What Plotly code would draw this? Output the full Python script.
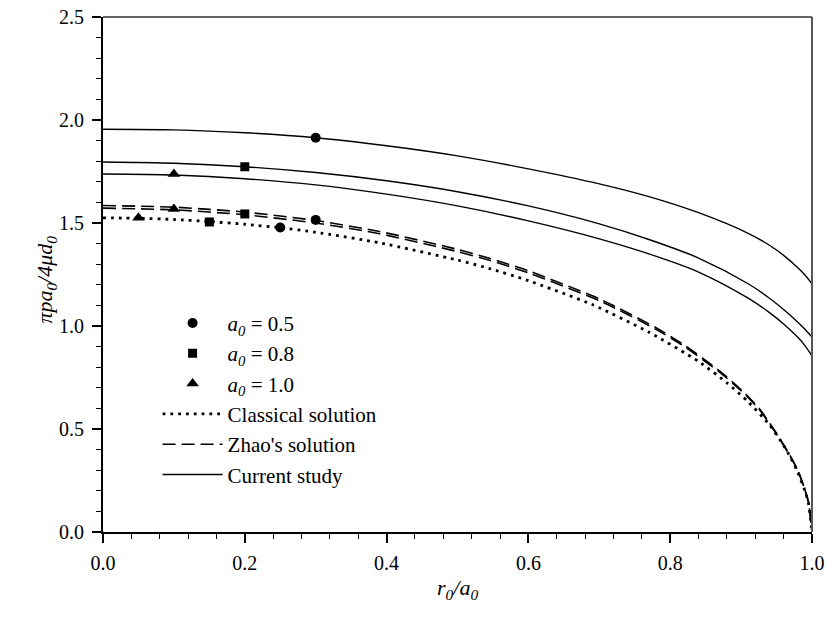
import plotly.graph_objects as go

# ---- Data -------------------------------------------------------------
# Current study (solid lines), one curve per a0
r_cur = [0.0, 0.1, 0.2, 0.3, 0.4, 0.5, 0.6, 0.7, 0.77, 0.84, 0.91, 0.94, 0.96, 0.98, 0.99, 1.0]
cur_a05 = [1.955, 1.952, 1.938, 1.914, 1.875, 1.826, 1.763, 1.690, 1.628, 1.550, 1.450, 1.392, 1.343, 1.283, 1.248, 1.205]
cur_a08 = [1.796, 1.790, 1.773, 1.745, 1.705, 1.652, 1.583, 1.496, 1.420, 1.330, 1.205, 1.135, 1.080, 1.018, 0.984, 0.946]
cur_a10 = [1.738, 1.733, 1.715, 1.685, 1.640, 1.583, 1.510, 1.423, 1.350, 1.262, 1.135, 1.065, 1.010, 0.945, 0.905, 0.855]

# Classical solution (dotted)
r_cls = [0.0, 0.05, 0.1, 0.15, 0.2, 0.25, 0.3, 0.39, 0.5, 0.545, 0.6, 0.69, 0.77, 0.84, 0.88,
         0.91, 0.94, 0.96, 0.97, 0.98, 0.99, 0.995, 1.0]
cls_val = [1.525, 1.523, 1.517, 1.507, 1.494, 1.477, 1.455, 1.404, 1.320, 1.279, 1.220, 1.104, 0.970,
           0.828, 0.724, 0.632, 0.520, 0.420, 0.360, 0.290, 0.200, 0.140, 0.0]

# Zhao's solution (dashed), two nearly coincident curves
r_zhao = [0.0, 0.1, 0.2, 0.3, 0.39, 0.5, 0.545, 0.6, 0.7, 0.78, 0.82, 0.87, 0.9, 0.925,
          0.945, 0.965, 0.98, 0.99, 0.995, 1.0]
zhao_hi = [1.585, 1.577, 1.553, 1.512, 1.459, 1.372, 1.329, 1.268, 1.132, 0.992, 0.907, 0.781,
           0.691, 0.602, 0.505, 0.395, 0.300, 0.205, 0.145, 0.0]
zhao_lo = [1.572, 1.564, 1.540, 1.500, 1.448, 1.361, 1.319, 1.258, 1.123, 0.984, 0.900, 0.775,
           0.686, 0.597, 0.501, 0.392, 0.298, 0.204, 0.144, 0.0]

# Point results for each a0
pts_a05_x = [0.3, 0.3, 0.25]
pts_a05_y = [1.914, 1.515, 1.478]
pts_a08_x = [0.2, 0.2, 0.15]
pts_a08_y = [1.773, 1.544, 1.505]
pts_a10_x = [0.1, 0.1, 0.05]
pts_a10_y = [1.738, 1.568, 1.525]

FONT = "Liberation Serif, Times New Roman, serif"

fig = go.Figure()

# Lines
fig.add_trace(go.Scatter(x=r_cls, y=cls_val, mode="lines", name="Classical solution",
                         line=dict(color="black", width=2.8, dash="2.8px,5px", shape="spline", smoothing=0.6),
                         legendrank=4))
fig.add_trace(go.Scatter(x=r_zhao, y=zhao_hi, mode="lines", name="Zhao's solution",
                         line=dict(color="black", width=1.6, dash="13px,6px", shape="spline", smoothing=0.6),
                         legendrank=5))
fig.add_trace(go.Scatter(x=r_zhao, y=zhao_lo, mode="lines", showlegend=False,
                         line=dict(color="black", width=1.6, dash="13px,6px", shape="spline", smoothing=0.6)))
fig.add_trace(go.Scatter(x=r_cur, y=cur_a05, mode="lines", name="Current study",
                         line=dict(color="black", width=1.4, shape="spline", smoothing=0.8),
                         legendrank=6))
fig.add_trace(go.Scatter(x=r_cur, y=cur_a08, mode="lines", showlegend=False,
                         line=dict(color="black", width=1.4, shape="spline", smoothing=0.8)))
fig.add_trace(go.Scatter(x=r_cur, y=cur_a10, mode="lines", showlegend=False,
                         line=dict(color="black", width=1.4, shape="spline", smoothing=0.8)))

# Markers
fig.add_trace(go.Scatter(x=pts_a05_x, y=pts_a05_y, mode="markers",
                         name="<i>a<sub>0</sub></i> = 0.5",
                         marker=dict(symbol="circle", size=10, color="black"), legendrank=1))
fig.add_trace(go.Scatter(x=pts_a08_x, y=pts_a08_y, mode="markers",
                         name="<i>a<sub>0</sub></i> = 0.8",
                         marker=dict(symbol="square", size=9, color="black"), legendrank=2))
fig.add_trace(go.Scatter(x=pts_a10_x, y=pts_a10_y, mode="markers",
                         name="<i>a<sub>0</sub></i> = 1.0",
                         marker=dict(symbol="triangle-up", size=11, color="black"), legendrank=3))

axis_common = dict(
    showline=True, linecolor="black", linewidth=2,
    ticks="outside", ticklen=9, tickwidth=2, tickcolor="black",
    showgrid=False, zeroline=False, automargin=False,
    tickfont=dict(family=FONT, size=20, color="black"),
)

fig.update_xaxes(range=[0, 1.0], tickvals=[0, 0.2, 0.4, 0.6, 0.8, 1.0],
                 ticktext=["0.0", "0.2", "0.4", "0.6", "0.8", "1.0"],
                 minor=dict(dtick=0.04, tick0=0, ticks="outside", ticklen=5, tickwidth=1, tickcolor="black"),
                 ticklabelstandoff=3, **axis_common)
fig.update_yaxes(range=[0, 2.5], tickvals=[0, 0.5, 1.0, 1.5, 2.0, 2.5],
                 ticktext=["0.0", "0.5", "1.0", "1.5", "2.0", "2.5"],
                 minor=dict(dtick=0.1, tick0=0, ticks="outside", ticklen=5, tickwidth=1, tickcolor="black"),
                 ticklabelstandoff=4, **axis_common)

# Top and right frame lines
fig.add_shape(type="line", xref="paper", yref="paper", x0=0, x1=1, y0=1, y1=1,
              line=dict(color="#333", width=1.5))
fig.add_shape(type="line", xref="paper", yref="paper", x0=1, x1=1, y0=0, y1=1,
              line=dict(color="#555", width=2))

# Axis titles
fig.add_annotation(text="<i>πpa<sub>0</sub>/4μd<sub>0</sub></i>", xref="paper", yref="paper",
                   x=-0.103, y=0.49, textangle=-90, showarrow=False,
                   font=dict(family=FONT, size=22, color="black"))
fig.add_annotation(text="<i>r<sub>0</sub>/a<sub>0</sub></i>", xref="paper", yref="paper",
                   x=0.5, y=-0.142, showarrow=False,
                   font=dict(family=FONT, size=22, color="black"))

fig.update_layout(
    width=828, height=626,
    margin=dict(l=103, r=16, t=17, b=94),
    paper_bgcolor="white", plot_bgcolor="white",
    font=dict(family=FONT, color="black"),
    legend=dict(x=0.077, y=0.445, xanchor="left", yanchor="top",
                bgcolor="rgba(0,0,0,0)", borderwidth=0, itemwidth=60,
                font=dict(family=FONT, size=21, color="black"),
                tracegroupgap=0),
)

fig.write_html("out.html")
